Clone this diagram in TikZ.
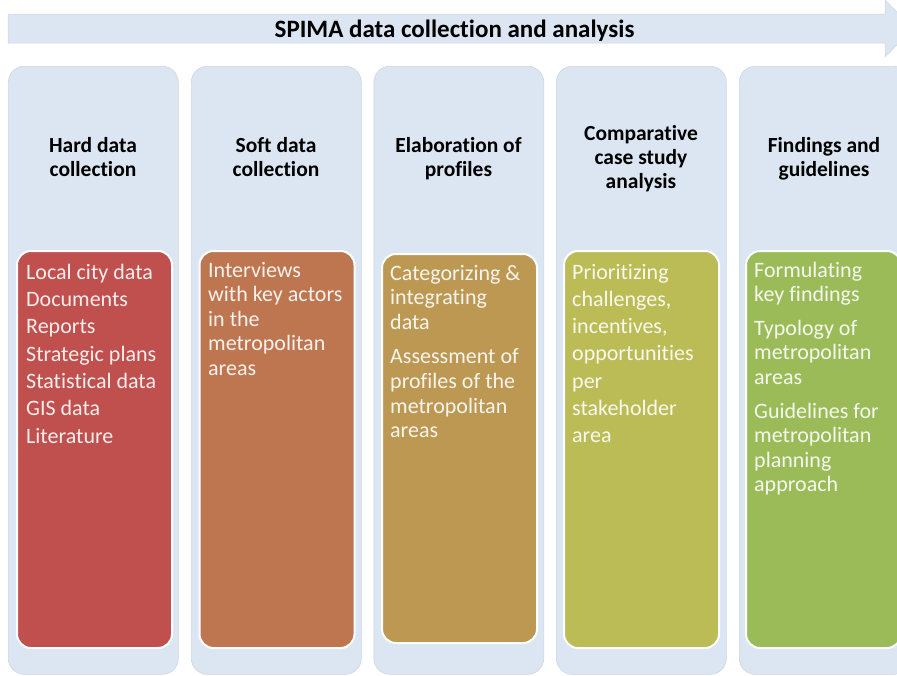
\documentclass[tikz,border=0pt]{standalone}
\usepackage{fontspec}
\setmainfont{Carlito}[Ligatures={NoCommon}]
\definecolor{lb}{HTML}{DCE6F2}
\definecolor{lbedge}{HTML}{CCD6E2}
\definecolor{cA}{HTML}{C0504D}
\definecolor{cB}{HTML}{BE7650}
\definecolor{cC}{HTML}{BD9852}
\definecolor{cD}{HTML}{BCBC57}
\definecolor{cE}{HTML}{9BBB59}
\tikzset{
  colbox/.style={draw=lbedge, line width=0.6pt, fill=lb, rounded corners=16pt,
    minimum width=170pt, minimum height=608pt, anchor=north west, inner sep=0pt},
  inbox/.style={draw=white, line width=2pt, rounded corners=14pt,
    minimum width=155pt, anchor=north west, inner sep=0pt},
  headtext/.style={font=\fontsize{21.5}{24}\selectfont\bfseries, align=center,
    anchor=base, inner sep=0pt, text=black},
  bodytext/.style={font=\fontsize{22}{24.6}\selectfont, align=left,
    anchor=base west, inner sep=0pt, text=white, text opacity=0.9},
  titletext/.style={font=\fontsize{25}{28}\selectfont\bfseries, anchor=base,
    inner sep=0pt, text=black},
  arrowband/.style={fill=lb, draw=lbedge, line width=0.5pt}
}
\begin{document}
\begin{tikzpicture}[x=1pt,y=-1pt]
\useasboundingbox (0,0) rectangle (897,675);
\begin{scope}
\clip (0,0) rectangle (897,675);
% top arrow
\draw[arrowband] (8,14) -- (885,14) -- (885,0) -- (913,28.5) -- (885,57)
  -- (885,43) -- (8,43) -- cycle;
\node[titletext] (title) at (454.5,37.3) {SPIMA data collection and analysis};
% columns
\node[colbox] (colA) at (8,66) {};
\node[colbox] (colB) at (191,66) {};
\node[colbox] (colC) at (373.5,66) {};
\node[colbox] (colD) at (556,66) {};
\node[colbox] (colE) at (739,66) {};
% headers (anchored at the baseline of the last line)
\node[headtext] (hA) at (93,176.7) {Hard data\\collection};
\node[headtext] (hB) at (276,176.7) {Soft data\\collection};
\node[headtext] (hC) at (458.5,176.7) {Elaboration of\\profiles};
\node[headtext] (hD) at (641,188.3) {Comparative\\case study\\analysis};
\node[headtext] (hE) at (824,176.7) {Findings and\\guidelines};
% inner boxes
\node[inbox, fill=cA, minimum height=397pt] (iA) at (16,250) {};
\node[inbox, fill=cB, minimum height=397pt] (iB) at (198.5,250) {};
\node[inbox, fill=cC, minimum height=389pt] (iC) at (381,253) {};
\node[inbox, fill=cD, minimum height=397pt] (iD) at (563,250) {};
\node[inbox, fill=cE, minimum height=397pt] (iE) at (745,250) {};
% texts (anchored at the baseline of the last line)
\node[bodytext] (tA) at (26,443) {Local city data\\[2.7pt]Documents\\[2.7pt]Reports\\[2.7pt]Strategic plans\\[2.7pt]Statistical data\\[2.7pt]GIS data\\[2.7pt]Literature};
\node[bodytext] (tB) at (208,375.4) {Interviews\\with key actors\\in the\\metropolitan\\areas};
\node[bodytext] (tC) at (390,437.6) {Categorizing \&\\integrating\\data\\[10pt]Assessment of\\profiles of the\\metropolitan\\areas};
\node[bodytext] (tD) at (572,442.8) {Prioritizing\\[2.7pt]challenges,\\[2.7pt]incentives,\\[2.7pt]opportunities\\[2.7pt]per\\[2.7pt]stakeholder\\[2.7pt]area};
\node[bodytext] (tE) at (754,491.8) {Formulating\\key findings\\[9pt]Typology of\\metropolitan\\areas\\[9pt]Guidelines for\\metropolitan\\planning\\approach};
\end{scope}
\end{tikzpicture}
\end{document}
